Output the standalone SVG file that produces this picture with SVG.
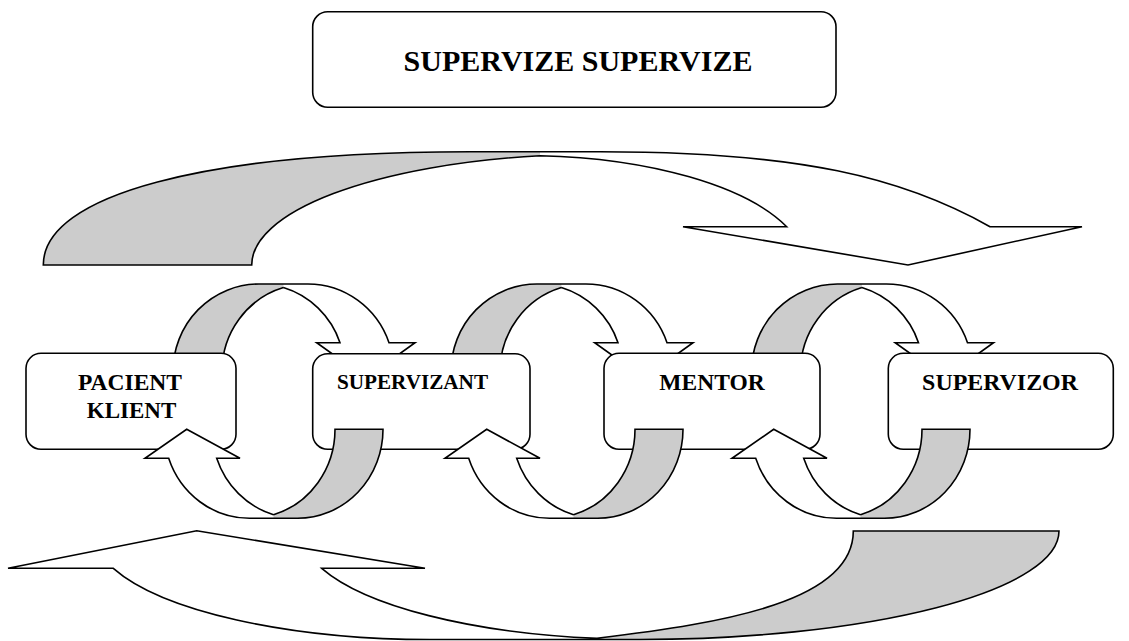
<svg xmlns="http://www.w3.org/2000/svg" width="1129" height="641" viewBox="0 0 1129 641">
<style>
.ln{stroke:#000;stroke-width:1.6;fill:none}
.wf{fill:#fff;stroke:none}
.gf{fill:#cccccc;stroke:none}
.box{fill:#fff;stroke:#000;stroke-width:1.6}
.t{font-family:"Liberation Serif","Times New Roman",serif;font-weight:bold;fill:#000;text-anchor:middle}
</style>
<defs>
<g id="loopTop">
<path class="wf" d="M283.4,287.6 L307.9,284 A85.9,87.6 0 0 1 389,342.7 L415,342.7 L366,378 L316.7,342.7 L340,342.7 A85.9,87.6 0 0 0 283.4,287.6 Z"/>
<path class="gf" d="M222,371.6 L173,371.6 A85.9,87.6 0 0 1 258.9,284 L283.4,284 L283.4,287.6 A85.9,87.6 0 0 0 222,371.6 Z"/>
<path class="ln" d="M283.4,287.6 A85.9,87.6 0 0 0 222,371.6 L173,371.6 A85.9,87.6 0 0 1 258.9,284 L307.9,284 A85.9,87.6 0 0 1 389,342.7 L415,342.7 L366,378 L316.7,342.7 L340,342.7 A85.9,87.6 0 0 0 283.4,287.6"/>
</g>
<g id="loopBot">
<path class="wf" d="M273.5,514.7 L273.5,518.3 L249.5,518.3 A85.5,89 0 0 1 168.7,458.3 L145,458.3 L186.7,429.3 L240,458.3 L216.7,458.3 A85.5,89 0 0 0 273.5,514.7 Z"/>
<path class="gf" d="M335,429.3 L383,429.3 A85.5,89 0 0 1 297.5,518.3 L273.5,518.3 L273.5,514.7 A85.5,89 0 0 0 335,429.3 Z"/>
<path class="ln" d="M273.5,514.7 A85.5,89 0 0 0 335,429.3 L383,429.3 A85.5,89 0 0 1 297.5,518.3 L249.5,518.3 A85.5,89 0 0 1 168.7,458.3 L145,458.3 L186.7,429.3 L240,458.3 L216.7,458.3 A85.5,89 0 0 0 273.5,514.7"/>
</g>
</defs>

<g id="connectors-back">
<g id="arrow-top">
<path class="wf" d="M540,151.7 L600,151.7 C800,151.7 903,177.7 990,226.7 L1082,226.7 L908,265 L683,226.7 L786.7,226.7 A283,113 0 0 0 540,155.7 Z"/>
<path class="gf" d="M251.7,265 L43.3,265 C43.3,194.8 205.4,151.7 470,151.7 L540,151.7 L540,155.7 A348,111 0 0 0 251.7,265 Z"/>
<path class="ln" d="M540,155.7 A348,111 0 0 0 251.7,265 L43.3,265 C43.3,194.8 205.4,151.7 470,151.7 L600,151.7 C800,151.7 903,177.7 990,226.7 L1082,226.7 L908,265 L683,226.7 L786.7,226.7 A283,113 0 0 0 540,155.7"/>
</g>
<g id="arrow-bottom">
<path class="wf" d="M113.3,568.3 L8,568.3 L196.7,530.7 L425,568.3 L321.7,568.3 A339,108.5 0 0 0 597,638.3 L597,639.5 L430,639.5 A337,108.5 0 0 1 113.3,568.3 Z"/>
<path class="gf" d="M597,638.3 C727,622.7 853.3,601 853.3,531 L1059,531 A419,108.5 0 0 1 640,639.5 L597,639.5 Z"/>
<path class="ln" d="M597,638.3 C727,622.7 853.3,601 853.3,531 L1059,531 A419,108.5 0 0 1 640,639.5 L430,639.5 A337,108.5 0 0 1 113.3,568.3 L8,568.3 L196.7,530.7 L425,568.3 L321.7,568.3 A339,108.5 0 0 0 597,638.3"/>
</g>
<use id="loop-top-1" href="#loopTop"/>
<use id="loop-top-2" href="#loopTop" x="278"/>
<use id="loop-top-3" href="#loopTop" x="578.5"/>
</g>

<g id="title">
<rect class="box" x="312.7" y="11.7" width="523.3" height="95.6" rx="15"/>
<text class="t" x="578" y="70.7" font-size="30">SUPERVIZE SUPERVIZE</text>
</g>
<g id="pacient">
<rect class="box" x="26" y="353.3" width="210" height="96" rx="15"/>
<text class="t" x="130" y="390" font-size="23.5">PACIENT</text>
<text class="t" x="131.5" y="418.3" font-size="23">KLIENT</text>
</g>
<g id="supervizant">
<rect class="box" x="312.7" y="353.8" width="217.3" height="95.5" rx="15"/>
<text class="t" x="412.5" y="389.3" font-size="21.2">SUPERVIZANT</text>
</g>
<g id="mentor">
<rect class="box" x="604" y="353.3" width="216" height="96" rx="15"/>
<text class="t" x="712" y="390" font-size="23.5">MENTOR</text>
</g>
<g id="supervizor">
<rect class="box" x="888.3" y="353.3" width="225" height="96" rx="15"/>
<text class="t" x="1000" y="390" font-size="23.9">SUPERVIZOR</text>
</g>

<g id="connectors-front">
<use id="loop-bot-1" href="#loopBot"/>
<use id="loop-bot-2" href="#loopBot" x="300"/>
<use id="loop-bot-3" href="#loopBot" x="587"/>
</g>
</svg>
